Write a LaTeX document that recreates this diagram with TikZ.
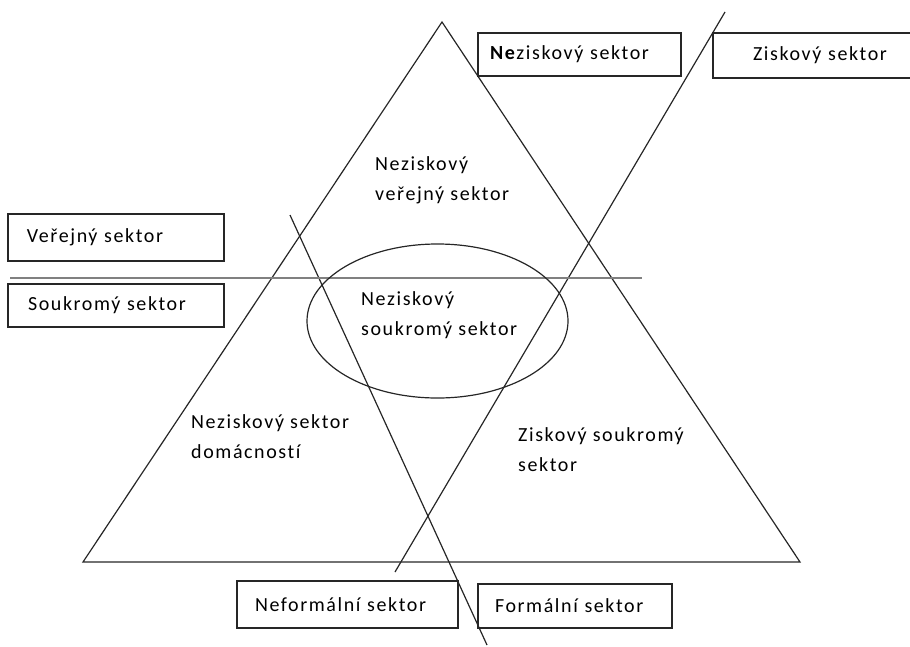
\documentclass[tikz,border=0pt]{standalone}
\usepackage{fontspec}
\setmainfont{Carlito}[LetterSpace=8,Ligatures=NoCommon]
\begin{document}
\begin{tikzpicture}[x=1pt,y=-1pt,
    cara/.style={draw=black!85,line width=1.2pt},
    delici/.style={draw=black!50,line width=2.8pt},
    ramec/.style={draw=black!85,line width=1.3pt,align=left,inner ysep=0pt,
      font=\fontsize{20}{30}\selectfont},
    popis/.style={align=left,anchor=north west,inner sep=0pt,
      font=\fontsize{20}{30}\selectfont}]
  \useasboundingbox (0,0) rectangle (910,646);
  % body trojuhelniku a car
  \coordinate (A) at (83,562);
  \coordinate (B) at (442,22);
  \coordinate (C) at (800,562);
  \coordinate (z1) at (725,12);
  \coordinate (z2) at (395,572);
  \coordinate (f1) at (290,215);
  \coordinate (f2) at (487,645);
  \coordinate (h1) at (10,278);
  \coordinate (h2) at (642,278);
  \draw[cara] (A) -- (B) -- (C) -- cycle;
  \draw[cara] (z1) -- (z2);
  \draw[cara] (f1) -- (f2);
  \draw[delici] (h1) -- (h2);
  \draw[cara] (437.5,321) ellipse [x radius=130.5, y radius=77];
  % ramecky
  \node[ramec,minimum width=216pt,minimum height=47pt,inner xsep=19pt,text width=178pt]
    (verejny) at (116,237.5) {Veřejný sektor};
  \node[ramec,minimum width=216pt,minimum height=43pt,inner xsep=20pt,text width=176pt]
    (soukromy) at (116,305.5) {Soukromý sektor};
  \node[ramec,minimum width=203pt,minimum height=43pt,inner xsep=12pt,text width=179pt]
    (nezisk) at (579.5,54.5) {\textbf{Ne}ziskový sektor};
  \node[ramec,minimum width=230pt,minimum height=45pt,inner xsep=40pt,text width=150pt]
    (zisk) at (828,55.5) {Ziskový sektor};
  \node[ramec,minimum width=221pt,minimum height=47pt,inner xsep=18pt,text width=185pt]
    (neformalni) at (347.5,604.5) {Neformální sektor};
  \node[ramec,minimum width=194pt,minimum height=44pt,inner xsep=17pt,text width=160pt]
    (formalni) at (575,606) {Formální sektor};
  % popisky sektoru
  \node[popis] (nvs) at (375,156) {Neziskový\\veřejný sektor};
  \node[popis] (nss) at (361,291) {Neziskový\\soukromý sektor};
  \node[popis] (nsd) at (191,414) {Neziskový sektor\\domácností};
  \node[popis] (zss) at (518,427) {Ziskový soukromý\\sektor};
\end{tikzpicture}
\end{document}
